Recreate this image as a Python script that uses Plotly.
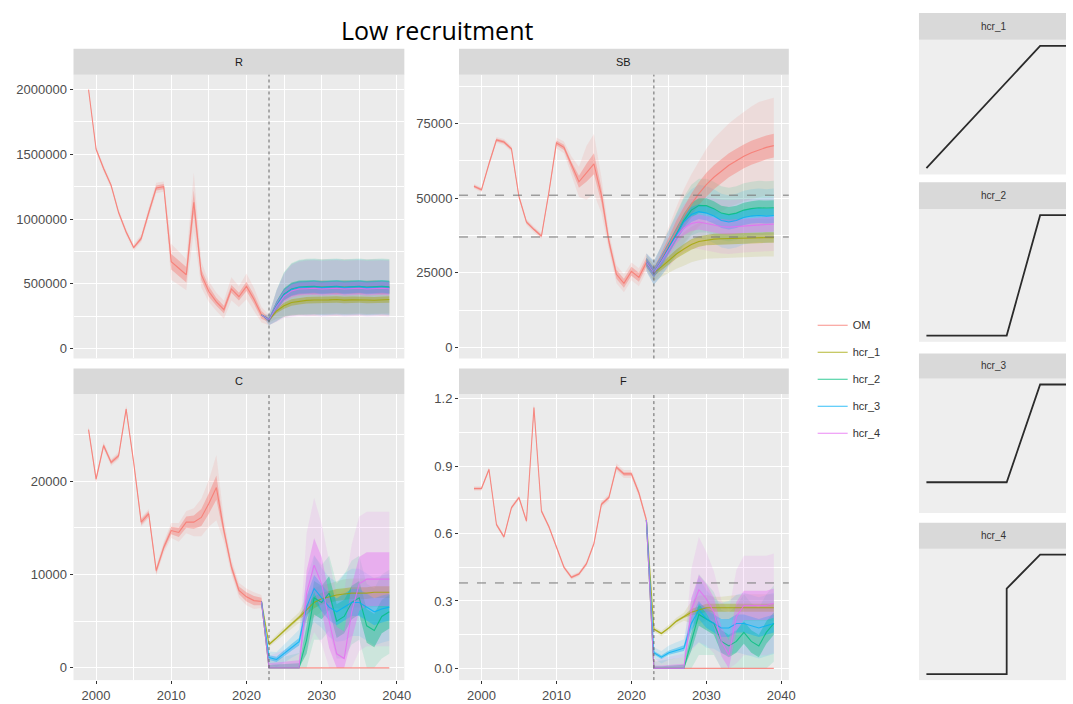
import numpy as np
import plotly.graph_objects as go

# ---------------------------------------------------------------- data
years_hist = list(range(1999, 2023))          # operating-model history
years_all = list(range(1999, 2040))           # OM incl. projection
years_proj = list(range(2022, 2040))          # HCR projections (start at last data year)

series_names = ["OM", "hcr_1", "hcr_2", "hcr_3", "hcr_4"]
series_colors = ["#F8766D", "#A3A500", "#00BF7D", "#00B0F6", "#E76BF3"]

# Recruitment (R)
R_om = [2000000, 1540000, 1390000, 1260000, 1050000, 900000, 780000, 850000, 1050000, 1240000,
        1250000, 670000, 620000, 570000, 1130000, 570000, 440000, 360000, 300000, 460000,
        400000, 480000, 380000, 260000,
        220000, 330000, 415000, 455000, 468000, 472000, 470000, 475000, 472000, 470000,
        475000, 472000, 470000, 473000, 475000, 470000, 472000]
R_om_in = [5000, 10000, 10000, 10000, 10000, 10000, 10000, 15000, 20000, 20000, 20000, 60000,
           60000, 60000, 90000, 40000, 40000, 30000, 30000, 30000, 30000, 35000, 35000, 30000,
           15000, 35000, 45000, 50000, 50000, 50000, 50000, 50000, 50000, 50000, 50000, 50000,
           50000, 50000, 50000, 50000, 50000]
R_om_out = [10000, 25000, 25000, 25000, 25000, 25000, 25000, 30000, 40000, 40000, 40000, 140000,
            130000, 120000, 230000, 100000, 80000, 70000, 70000, 90000, 80000, 100000, 90000, 60000,
            40000, 120000, 170000, 200000, 210000, 215000, 215000, 215000, 215000, 215000, 215000,
            215000, 215000, 215000, 215000, 215000, 215000]
R_h1 = [260000, 220000, 290000, 330000, 355000, 365000, 372000, 375000, 373000, 376000, 378000,
        374000, 376000, 378000, 375000, 373000, 376000, 378000]
R_h2 = [260000, 220000, 330000, 420000, 460000, 475000, 478000, 480000, 474000, 478000, 480000,
        475000, 478000, 480000, 474000, 477000, 480000, 476000]
R_h3 = [260000, 220000, 330000, 415000, 455000, 470000, 472000, 475000, 470000, 472000, 476000,
        470000, 473000, 476000, 470000, 472000, 475000, 471000]
R_h4 = [260000, 220000, 325000, 405000, 445000, 460000, 462000, 465000, 460000, 463000, 466000,
        460000, 463000, 466000, 460000, 462000, 465000, 461000]
R_in = [0, 15000, 35000, 45000, 50000, 50000, 50000, 50000, 50000, 50000, 50000, 50000, 50000,
        50000, 50000, 50000, 50000, 50000]
R_out = [0, 40000, 120000, 170000, 200000, 210000, 215000, 215000, 215000, 215000, 215000, 215000,
         215000, 215000, 215000, 215000, 215000, 215000]
R_band_scale = [0.5, 1.0, 1.0, 1.0]   # relative interval width, hcr_1..hcr_4

# Spawning biomass (SB)
SB_om = [54000, 52800, 61500, 69500, 68800, 66500, 50500, 42000, 39500, 37300, 52000, 68500,
         67000, 61000, 55500, 58500, 61500, 51000, 35500, 24500, 21500, 25500, 23500, 28500,
         25000, 29500, 34500, 39500, 44000, 48000, 51500, 54500, 57000, 59000, 61000, 62500,
         64000, 65200, 66200, 67000, 67600]
SB_om_in = [400, 400, 500, 500, 500, 500, 500, 500, 500, 500, 600, 800, 900, 1200, 2000, 3000,
            3500, 2500, 1500, 1500, 1500, 1500, 1500, 1500,
            1500, 2000, 2500, 3000, 3300, 3600, 3800, 4000, 4000, 4000, 4000, 4000, 4000, 4000,
            4000, 4000, 4000]
SB_om_out = [800, 800, 1000, 1000, 1000, 1000, 1000, 1000, 1000, 1000, 1200, 1800, 2000, 3000,
             5000, 9000, 10000, 6000, 3000, 3000, 3000, 3000, 3000, 3000,
             3000, 4500, 6000, 7500, 9000, 10000, 11000, 12000, 13000, 13500, 14000, 14500,
             15000, 15500, 16000, 16000, 16000]
SB_h1 = [28500, 25000, 27000, 29200, 31300, 33000, 34500, 35500, 36000, 36300, 36400, 36500,
         36500, 36600, 36700, 36700, 36800, 36800]
SB_h2 = [28500, 25000, 29000, 33500, 38000, 42500, 46000, 47500, 47500, 46500, 45000, 44500,
         45000, 46000, 46500, 46800, 46700, 46800]
SB_h3 = [28500, 25000, 29000, 33500, 38000, 42000, 44500, 45500, 45000, 44000, 42500, 42000,
         42500, 43500, 44000, 44200, 44000, 44200]
SB_h4 = [28500, 25000, 28800, 33000, 37000, 40000, 41500, 42000, 41500, 41000, 40500, 40300,
         40500, 40800, 41000, 41200, 41200, 41300]
SB_in = [1500, 1500, 1800, 2000, 2200, 2400, 2500, 2500, 2500, 2500, 2500, 2500, 2500, 2500,
         2500, 2500, 2500, 2500]
SB_out = [3000, 4000, 5000, 6000, 7000, 8000, 8500, 9000, 9000, 9000, 9000, 9000, 9000, 9000,
          9000, 9000, 9000, 9000]
SB_band_scale = [0.7, 1.0, 1.0, 1.0]
SB_refpts = [37000, 51000]

# Catch (C)
C_om = [25500, 20200, 23800, 22000, 22700, 27700, 22000, 15600, 16500, 10400, 12900, 14700,
        14500, 15600, 15600, 16100, 17600, 19300, 14700, 10800, 8300, 7600, 7200, 7100,
        0, 0, 0, 0, 0, 0, 0, 0, 0, 0, 0, 0, 0, 0, 0, 0, 0]
C_om_in = [200, 200, 200, 200, 200, 200, 200, 300, 300, 300, 300, 400, 500, 600, 700, 900,
           1100, 1300, 500, 400, 400, 500, 500, 400,
           0, 0, 0, 0, 0, 0, 0, 0, 0, 0, 0, 0, 0, 0, 0, 0, 0]
C_om_out = [400, 400, 400, 400, 400, 400, 400, 500, 500, 500, 600, 800, 1000, 1200, 1500, 2000,
            2500, 3500, 1200, 800, 800, 900, 900, 700,
            0, 0, 0, 0, 0, 0, 0, 0, 0, 0, 0, 0, 0, 0, 0, 0, 0]
C_h1 = [7100, 2500, 3200, 4000, 4700, 5400, 6200, 7000, 7400, 7600, 7800, 7900, 8000, 8000,
        8000, 8100, 8100, 8100]
C_h2 = [7100, 0, 0, 0, 0, 0, 3000, 7500, 7000, 8000, 5000, 5500, 7000, 7500, 4500, 4000, 5500,
        6000]
C_h3 = [7100, 1100, 900, 1500, 2200, 2800, 6500, 8500, 7500, 6500, 6000, 6500, 7000, 7000, 6500,
        6000, 6300, 6500]
C_h4 = [7100, 0, 0, 0, 0, 0, 8000, 11000, 9000, 5000, 1500, 1000, 6000, 9000, 9500, 9500, 9500,
        9500]
C_in = [0, 300, 350, 400, 450, 500, 1500, 1800, 1800, 1800, 1800, 1800, 1800, 1800, 1800, 1800,
        1800, 1800]
C_out = [0, 800, 1000, 1200, 1400, 1600, 4000, 4500, 4000, 4000, 4000, 4500, 4500, 4500, 4500,
         4500, 4500, 4500]
C_band_scale = [0.35, 1.0, 0.8, 1.6]

# Fishing mortality (F)
F_om = [0.80, 0.80, 0.885, 0.64, 0.585, 0.715, 0.76, 0.655, 1.16, 0.70, 0.63, 0.54, 0.45, 0.405,
        0.42, 0.465, 0.555, 0.73, 0.76, 0.895, 0.865, 0.865, 0.78, 0.66,
        0, 0, 0, 0, 0, 0, 0, 0, 0, 0, 0, 0, 0, 0, 0, 0, 0]
F_om_in = [0.005, 0.005, 0.005, 0.005, 0.005, 0.005, 0.005, 0.005, 0.008, 0.005, 0.005, 0.005,
           0.005, 0.005, 0.005, 0.006, 0.006, 0.007, 0.007, 0.008, 0.008, 0.008, 0.008, 0.008,
           0, 0, 0, 0, 0, 0, 0, 0, 0, 0, 0, 0, 0, 0, 0, 0, 0]
F_om_out = [0.01, 0.01, 0.01, 0.01, 0.01, 0.01, 0.01, 0.01, 0.02, 0.01, 0.01, 0.01, 0.01, 0.01,
            0.01, 0.012, 0.012, 0.015, 0.015, 0.018, 0.018, 0.018, 0.018, 0.015,
            0, 0, 0, 0, 0, 0, 0, 0, 0, 0, 0, 0, 0, 0, 0, 0, 0]
F_h1 = [0.66, 0.175, 0.155, 0.18, 0.21, 0.23, 0.25, 0.26, 0.27, 0.27, 0.27, 0.27, 0.27, 0.27,
        0.27, 0.27, 0.27, 0.27]
F_h2 = [0.66, 0, 0, 0, 0, 0, 0.12, 0.24, 0.22, 0.20, 0.12, 0.10, 0.12, 0.16, 0.12, 0.10, 0.16,
        0.20]
F_h3 = [0.66, 0.07, 0.05, 0.07, 0.08, 0.09, 0.20, 0.26, 0.22, 0.20, 0.18, 0.18, 0.20, 0.20, 0.19,
        0.18, 0.19, 0.20]
F_h4 = [0.66, 0, 0, 0, 0, 0, 0.26, 0.35, 0.31, 0.25, 0.12, 0.06, 0.23, 0.28, 0.28, 0.28, 0.28,
        0.29]
F_in = [0, 0.01, 0.01, 0.012, 0.014, 0.016, 0.04, 0.05, 0.05, 0.05, 0.05, 0.05, 0.05, 0.05, 0.05,
        0.05, 0.05, 0.05]
F_out = [0, 0.03, 0.035, 0.04, 0.045, 0.05, 0.14, 0.18, 0.16, 0.14, 0.14, 0.15, 0.16, 0.17, 0.17,
         0.17, 0.17, 0.17]
F_band_scale = [0.35, 1.0, 0.8, 1.3]
F_target = 0.38

proj_start = 2023

# Harvest control rules: F against SB (thousand t)
hcr_labels = ["hcr_1", "hcr_2", "hcr_3", "hcr_4"]
hcr_ssb = [[0, 51, 70], [0, 36, 51, 70], [0, 36, 51, 70], [0, 36, 36, 51, 70]]
hcr_f = [[0, 0.38, 0.38], [0, 0, 0.38, 0.38], [0.076, 0.076, 0.38, 0.38],
         [0, 0, 0.272, 0.38, 0.38]]

# ---------------------------------------------------------------- layout helpers
W, H = 1073, 704


def px_x(a, b):
    return [a / W, b / W]


def px_y(top, bottom):
    return [1 - bottom / H, 1 - top / H]


def rgba(hex_col, a):
    h = hex_col.lstrip("#")
    return "rgba(%d,%d,%d,%s)" % (int(h[0:2], 16), int(h[2:4], 16), int(h[4:6], 16), a)


def ax_ids(n):
    """Trace refs and layout keys for axis pair n (1-based)."""
    s = "" if n == 1 else str(n)
    return "x" + s, "y" + s, "xaxis" + s, "yaxis" + s


cols = [(74, 407), (462, 794)]
rows = [(72, 357), (393, 680)]
strip_rows = [(46, 72), (367, 393)]

panels = [
    dict(name="R", col=0, row=0, om=(R_om, R_om_in, R_om_out),
         hcr=[R_h1, R_h2, R_h3, R_h4], spread=(R_in, R_out), scale=R_band_scale, floor=None,
         yrange=[-77000, 2115000], ticks=[0, 500000, 1000000, 1500000, 2000000],
         ticktext=["0", "500000", "1000000", "1500000", "2000000"], minor=250000),
    dict(name="SB", col=1, row=0, om=(SB_om, SB_om_in, SB_om_out),
         hcr=[SB_h1, SB_h2, SB_h3, SB_h4], spread=(SB_in, SB_out), scale=SB_band_scale,
         floor=None, yrange=[-3667, 91333], ticks=[0, 25000, 50000, 75000],
         ticktext=["0", "25000", "50000", "75000"], minor=12500),
    dict(name="C", col=0, row=1, om=(C_om, C_om_in, C_om_out),
         hcr=[C_h1, C_h2, C_h3, C_h4], spread=(C_in, C_out), scale=C_band_scale, floor=0,
         yrange=[-1313, 29285], ticks=[0, 10000, 20000],
         ticktext=["0", "10000", "20000"], minor=5000),
    dict(name="F", col=1, row=1, om=(F_om, F_om_in, F_om_out),
         hcr=[F_h1, F_h2, F_h3, F_h4], spread=(F_in, F_out), scale=F_band_scale, floor=0,
         yrange=[-0.052, 1.219], ticks=[0, 0.3, 0.6, 0.9, 1.2],
         ticktext=["0.0", "0.3", "0.6", "0.9", "1.2"], minor=0.15),
]

fig = go.Figure()
layout = {}
shapes = []
annotations = []

tick_font = dict(family="Liberation Sans, Arial, sans-serif", size=13, color="#4D4D4D")
strip_font = dict(family="Liberation Sans, Arial, sans-serif", size=11, color="#1A1A1A")


def band(x, med, half, floor):
    med = np.asarray(med, float)
    half = np.asarray(half, float)
    lo = med - half
    hi = med + half
    if floor is not None:
        lo = np.maximum(lo, floor)
    return list(x) + list(x)[::-1], list(hi) + list(lo)[::-1]


ribbon_outer, ribbon_inner, lines = [], [], []

for i, p in enumerate(panels, start=1):
    xa, ya, xkey, ykey = ax_ids(i)
    x0, x1 = cols[p["col"]]
    top, bottom = rows[p["row"]]
    bottom_row = p["row"] == 1
    layout[xkey] = dict(
        domain=px_x(x0, x1), anchor=ya, range=[1997, 2041],
        tickvals=[2000, 2010, 2020, 2030, 2040], showticklabels=bottom_row,
        ticks="outside" if bottom_row else "", ticklen=3, tickcolor="#333333",
        tickfont=tick_font, showgrid=True, gridcolor="white", gridwidth=1.2,
        minor=dict(tickvals=[1995, 2005, 2015, 2025, 2035], showgrid=True,
                   gridcolor="white", gridwidth=0.6),
        zeroline=False, showline=False, fixedrange=True)
    minor_vals = list(np.arange(p["ticks"][0] - p["minor"], p["yrange"][1], p["minor"] * 2))
    layout[ykey] = dict(
        domain=px_y(top, bottom), anchor=xa, range=p["yrange"],
        tickvals=p["ticks"], ticktext=p["ticktext"], ticks="outside", ticklen=3,
        tickcolor="#333333", tickfont=tick_font, showgrid=True, gridcolor="white",
        gridwidth=1.2,
        minor=dict(tickvals=minor_vals, showgrid=True, gridcolor="white", gridwidth=0.6),
        zeroline=False, showline=False, fixedrange=True)

    # facet strip
    s_top, s_bot = strip_rows[p["row"]]
    shapes.append(dict(type="rect", xref="paper", yref="paper", x0=x0 / W, x1=x1 / W,
                       y0=1 - s_bot / H, y1=1 - s_top / H, fillcolor="#D9D9D9",
                       line=dict(width=0), layer="below"))
    annotations.append(dict(x=(x0 + x1) / 2 / W, y=1 - (s_top + s_bot) / 2 / H,
                            xref="paper", yref="paper", text=p["name"], showarrow=False,
                            font=strip_font, xanchor="center", yanchor="middle"))

    # projection start marker
    shapes.append(dict(type="line", xref=xa, yref=ya + " domain", x0=proj_start,
                       x1=proj_start, y0=0, y1=1,
                       line=dict(color="#666666", width=1, dash="dot")))

    # series: OM then HCRs
    om_med, om_in, om_out = p["om"]
    series = [(years_all, om_med, om_in, om_out)]
    for med, sc in zip(p["hcr"], p["scale"]):
        series.append((years_proj, med, np.asarray(p["spread"][0]) * sc,
                       np.asarray(p["spread"][1]) * sc))
    for k, (xs, med, s_in, s_out) in enumerate(series):
        col = series_colors[k]
        bx, by = band(xs, med, s_out, p["floor"])
        ribbon_outer.append(go.Scatter(x=bx, y=by, xaxis=xa, yaxis=ya, fill="toself",
                                       fillcolor=rgba(col, 0.13), line=dict(width=0),
                                       mode="lines", hoverinfo="skip", showlegend=False))
        bx, by = band(xs, med, s_in, p["floor"])
        ribbon_inner.append(go.Scatter(x=bx, y=by, xaxis=xa, yaxis=ya, fill="toself",
                                       fillcolor=rgba(col, 0.4), line=dict(width=0),
                                       mode="lines", hoverinfo="skip", showlegend=False))
        lines.append(go.Scatter(x=xs, y=med, xaxis=xa, yaxis=ya, mode="lines",
                                line=dict(color=rgba(col, 0.8), width=1.1),
                                name=series_names[k], legendgroup=series_names[k],
                                showlegend=(i == 1)))

# reference points
for ref in SB_refpts:
    shapes.append(dict(type="line", xref="x2 domain", yref="y2", x0=0, x1=1, y0=ref, y1=ref,
                       line=dict(color="#777777", width=1, dash="dash")))
shapes.append(dict(type="line", xref="x4 domain", yref="y4", x0=0, x1=1, y0=F_target,
                   y1=F_target, line=dict(color="#777777", width=1, dash="dash")))

for t in ribbon_outer + ribbon_inner + lines:
    fig.add_trace(t)

# ---------------------------------------------------------------- HCR shape panels
hcr_plot_rows = [(37, 172), (207, 340), (377, 512), (548, 680)]
hcr_strip_rows = [(10, 37), (180, 207), (352, 377), (522, 548)]
hx0, hx1 = 925, 1073
for j in range(4):
    xa, ya, xkey, ykey = ax_ids(5 + j)
    top, bottom = hcr_plot_rows[j]
    layout[xkey] = dict(domain=px_x(hx0, hx1), anchor=ya, range=[-3.34, 62.6],
                        visible=False, fixedrange=True)
    layout[ykey] = dict(domain=px_y(top, bottom), anchor=xa, range=[-0.019, 0.399],
                        visible=False, fixedrange=True)
    shapes.append(dict(type="rect", xref="paper", yref="paper", x0=hx0 / W, x1=hx1 / W,
                       y0=1 - bottom / H, y1=1 - top / H, fillcolor="#EEEEEE",
                       line=dict(width=0), layer="below"))
    s_top, s_bot = hcr_strip_rows[j]
    shapes.append(dict(type="rect", xref="paper", yref="paper", x0=hx0 / W, x1=hx1 / W,
                       y0=1 - s_bot / H, y1=1 - s_top / H, fillcolor="#D9D9D9",
                       line=dict(width=0), layer="below"))
    annotations.append(dict(x=1000 / W, y=1 - (s_top + s_bot) / 2 / H,
                            xref="paper", yref="paper", text=hcr_labels[j], showarrow=False,
                            font=dict(family="Liberation Sans, Arial, sans-serif", size=10,
                                      color="#333333"),
                            xanchor="center", yanchor="middle"))
    fig.add_trace(go.Scatter(x=hcr_ssb[j], y=hcr_f[j], xaxis=xa, yaxis=ya, mode="lines",
                             line=dict(color="#2B2B2B", width=1.8), hoverinfo="skip",
                             showlegend=False))

# title
annotations.append(dict(x=440 / W, y=1 - 27 / H, xref="paper", yref="paper",
                        text="Low recruitment", showarrow=False, xanchor="center",
                        yanchor="middle",
                        font=dict(family="Open Sans, sans-serif", size=25, color="#000000")))

fig.update_layout(
    width=W, height=H, margin=dict(l=0, r=0, t=0, b=0),
    paper_bgcolor="white", plot_bgcolor="#EBEBEB",
    shapes=shapes, annotations=annotations,
    showlegend=True,
    legend=dict(x=818 / W, y=1 - 309 / H, xanchor="left", yanchor="top",
                bgcolor="rgba(0,0,0,0)", font=dict(family="Liberation Sans, Arial, sans-serif",
                                                   size=11, color="#333333"),
                tracegroupgap=8, itemwidth=30),
    **layout,
)

fig.write_html("out.html")
